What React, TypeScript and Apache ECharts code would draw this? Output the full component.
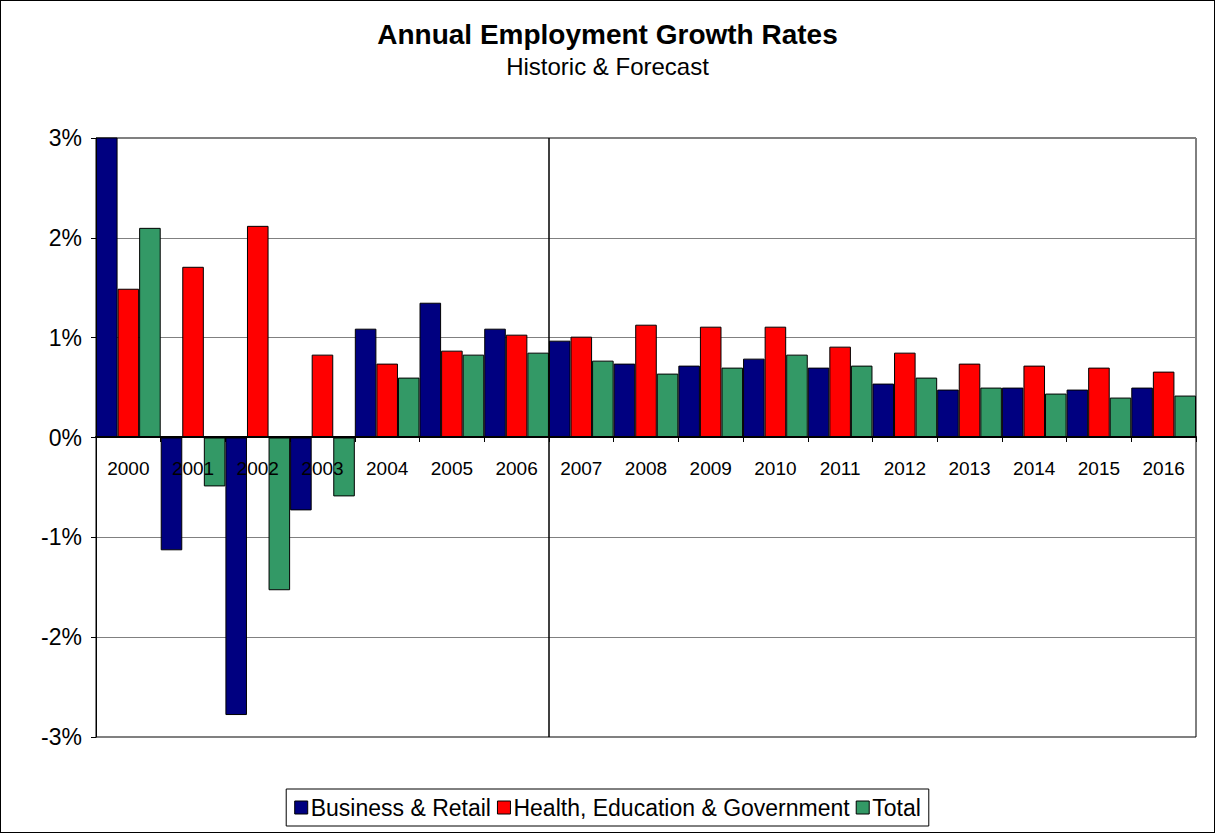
import { useEffect, useRef } from 'react'
import * as echarts from 'echarts'

const years = ['2000', '2001', '2002', '2003', '2004', '2005', '2006', '2007', '2008', '2009', '2010', '2011', '2012', '2013', '2014', '2015', '2016']
const business = [3.05, -1.13, -2.78, -0.73, 1.09, 1.35, 1.09, 0.97, 0.74, 0.72, 0.79, 0.7, 0.54, 0.48, 0.5, 0.48, 0.5]
const health = [1.49, 1.71, 2.12, 0.83, 0.74, 0.87, 1.03, 1.01, 1.13, 1.11, 1.11, 0.91, 0.85, 0.74, 0.72, 0.7, 0.66]
const total = [2.1, -0.49, -1.53, -0.59, 0.6, 0.83, 0.85, 0.77, 0.64, 0.7, 0.83, 0.72, 0.6, 0.5, 0.44, 0.4, 0.42]
// forecast starts with 2007 (index 7 on the 0..17 boundary scale)
const forecastStart = 7

export default function App() {
  const chartRef = useRef<HTMLDivElement>(null)

  useEffect(() => {
    if (!chartRef.current) return
    const chart = echarts.init(chartRef.current, null, { renderer: 'svg' })
    const font = 'Arial, "Liberation Sans", sans-serif'
    const bar = (name: string, data: number[], color: string) => ({
      name,
      type: 'bar',
      data,
      barGap: '0%',
      barCategoryGap: '0%',
      itemStyle: { color, borderColor: '#000', borderWidth: 1 },
    })

    chart.setOption({
      animation: false,
      textStyle: { fontFamily: font },
      title: {
        text: 'Annual Employment Growth Rates',
        subtext: 'Historic & Forecast',
        left: 'center',
        top: 14,
        itemGap: 6,
        textStyle: { fontSize: 28, fontWeight: 'bold', color: '#000', fontFamily: font, letterSpacing: -1.2 },
        subtextStyle: { fontSize: 24, color: '#000', fontFamily: font, letterSpacing: -0.5 },
      },
      grid: { left: 95, right: 18, top: 137, bottom: 95, show: true, borderColor: '#000', borderWidth: 1 },
      legend: {
        bottom: 6,
        left: 'center',
        icon: 'rect',
        itemWidth: 13,
        itemHeight: 13,
        itemGap: 6,
        padding: [7, 8],
        borderColor: '#000',
        borderWidth: 1,
        textStyle: { fontSize: 23, color: '#000', fontFamily: font, padding: [0, 0, 0, -2] },
        itemStyle: { borderColor: '#000', borderWidth: 1 },
      },
      xAxis: [
        {
          type: 'category',
          data: years,
          position: 'bottom',
          offset: -300,
          axisLine: { onZero: false, lineStyle: { color: '#000', width: 2 } },
          axisTick: { show: true, length: 5, lineStyle: { color: '#000' } },
          axisLabel: { fontSize: 19, color: '#000', margin: 22 },
          z: 5,
        },
        { type: 'value', min: 0, max: years.length, show: false, position: 'top' },
      ],
      yAxis: {
        type: 'value',
        min: -3,
        max: 3,
        interval: 1,
        axisLabel: { formatter: '{value}%', fontSize: 23, color: '#000', margin: 14 },
        axisLine: { show: true, lineStyle: { color: '#000' } },
        axisTick: { show: true, length: 5, lineStyle: { color: '#000' } },
        splitLine: { lineStyle: { color: '#808080' } },
      },
      series: [
        bar('Business & Retail', business, '#000080'),
        bar('Health, Education & Government', health, '#ff0000'),
        bar('Total', total, '#339966'),
        {
          type: 'line',
          xAxisIndex: 1,
          data: [],
          silent: true,
          markLine: {
            symbol: 'none',
            label: { show: false },
            lineStyle: { color: '#000', width: 1.5, type: 'solid' },
            data: [{ xAxis: forecastStart }],
          },
        },
      ],
    })
    return () => chart.dispose()
  }, [])

  return (
    <div style={{ position: 'fixed', left: 0, top: 0, width: 1213, height: 831, border: '1px solid #000', background: '#fff' }}>
      <div ref={chartRef} style={{ width: 1213, height: 831 }} />
    </div>
  )
}
